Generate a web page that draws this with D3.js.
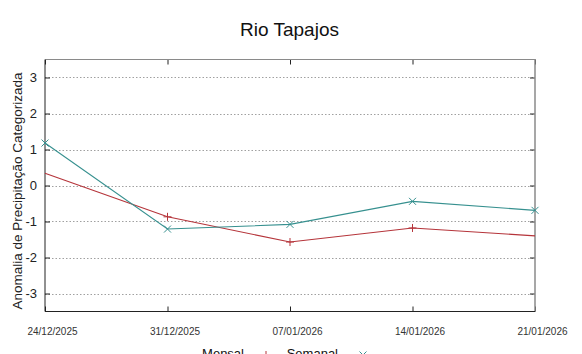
<!DOCTYPE html>
<html><head><meta charset="utf-8">
<script src="https://cdn.jsdelivr.net/npm/d3@7"></script>
<style>body{margin:0;background:#fff}svg{display:block;font-family:"Liberation Sans",Arial,sans-serif}</style>
</head><body><svg id="c" width="582" height="354"></svg>
<script>
const dates = ["24/12/2025","31/12/2025","07/01/2026","14/01/2026","21/01/2026"];
const mensal = [0.34, -0.87, -1.57, -1.18, -1.40];
const mensalMarkers = [false, true, true, true, false];
const semanal = [1.18, -1.21, -1.08, -0.44, -0.69];
const yTicks = [-3, -2, -1, 0, 1, 2, 3];
const title = "Rio Tapajos";
const yLabel = "Anomalia de Precipitação Categorizada";
const seriesNames = ["Mensal", "Semanal"];

const svg = d3.select("#c");
const L = 45, R = 535, T = 59.5, B = 311.5;
const x = d3.scalePoint().domain(dates).range([L, R]);
const y = d3.scaleLinear().domain([-3.5, 3.5]).range([B, T]);
const red = "#b5343a", teal = "#36908f";

// grid
svg.append("g").selectAll("line").data(yTicks).join("line")
  .attr("x1", L).attr("x2", R).attr("y1", d => Math.round(y(d)) + 0.5).attr("y2", d => Math.round(y(d)) + 0.5)
  .attr("stroke", "#a0a0a0").attr("stroke-width", 1).attr("stroke-dasharray", "1.5,2");

// axes with inward ticks
const yAxisL = d3.axisLeft(y).tickValues(yTicks).tickFormat(d => String(d)).tickSizeInner(-5).tickSizeOuter(0).tickPadding(8);
const gL = svg.append("g").attr("transform", `translate(${L},0)`).call(yAxisL);
gL.select(".domain").remove();
gL.selectAll("text").attr("font-size", 13).attr("fill", "#222").attr("font-family", "Liberation Sans, Arial, sans-serif");
gL.selectAll("line").attr("stroke", "#222");
const gR = svg.append("g").attr("transform", `translate(${R},0)`).call(d3.axisRight(y).tickValues(yTicks).tickSizeInner(-5).tickSizeOuter(0).tickFormat(""));
gR.select(".domain").remove();
gR.selectAll("line").attr("stroke", "#222");

const gB = svg.append("g").attr("transform", `translate(0,${B})`).call(d3.axisBottom(x).tickSizeInner(-5).tickSizeOuter(0).tickPadding(16));
gB.select(".domain").remove();
gB.selectAll("line").attr("stroke", "#222");
gB.selectAll("text").attr("font-size", 10).attr("fill", "#333").attr("dx", 7).attr("font-family", "Liberation Sans, Arial, sans-serif");
const gT = svg.append("g").attr("transform", `translate(0,${T})`).call(d3.axisTop(x).tickSizeInner(-5).tickSizeOuter(0).tickFormat(""));
gT.select(".domain").remove();
gT.selectAll("line").attr("stroke", "#222");

// border
svg.append("line").attr("x1", L).attr("x2", R).attr("y1", T).attr("y2", T).attr("stroke", "#8a8a8a");
svg.append("line").attr("x1", R).attr("x2", R).attr("y1", T).attr("y2", B).attr("stroke", "#8a8a8a").attr("stroke-width", 1.5);
svg.append("line").attr("x1", L).attr("x2", L).attr("y1", T).attr("y2", B).attr("stroke", "#222");
svg.append("line").attr("x1", L).attr("x2", R).attr("y1", B).attr("y2", B).attr("stroke", "#222");

// lines
const line = d3.line().x((d, i) => x(dates[i])).y(d => y(d));
svg.append("path").datum(mensal).attr("d", line).attr("fill", "none").attr("stroke", red).attr("stroke-width", 1.1);
svg.append("path").datum(semanal).attr("d", line).attr("fill", "none").attr("stroke", teal).attr("stroke-width", 1.1);

// markers
const plus = (g, cx, cy, col) => g.append("path").attr("d", `M${cx-4},${cy}H${cx+4}M${cx},${cy-4}V${cy+4}`).attr("stroke", col).attr("stroke-width", 1);
const cross = (g, cx, cy, col) => g.append("path").attr("d", `M${cx-3.5},${cy-3.5}L${cx+3.5},${cy+3.5}M${cx-3.5},${cy+3.5}L${cx+3.5},${cy-3.5}`).attr("stroke", col).attr("stroke-width", 1);
const mk = svg.append("g");
mensal.forEach((v, i) => { if (mensalMarkers[i]) plus(mk, x(dates[i]), y(v), red); });
semanal.forEach((v, i) => cross(mk, x(dates[i]), y(v), teal));

// title
svg.append("text").attr("x", 289.5).attr("y", 36).attr("text-anchor", "middle").attr("font-size", 19).attr("fill", "#111").text(title);
// y label
svg.append("text").attr("transform", "translate(22,191) rotate(-90)").attr("text-anchor", "middle").attr("font-size", 13.5).attr("fill", "#222").text(yLabel);

// legend
const lg = svg.append("g").attr("font-size", 13).attr("fill", "#111");
lg.append("text").attr("x", 244).attr("y", 358).attr("text-anchor", "end").text(seriesNames[0]);
plus(lg, 266, 355, red);
lg.append("text").attr("x", 338).attr("y", 358).attr("text-anchor", "end").text(seriesNames[1]);
cross(lg, 363, 355, teal);
</script></body></html>
